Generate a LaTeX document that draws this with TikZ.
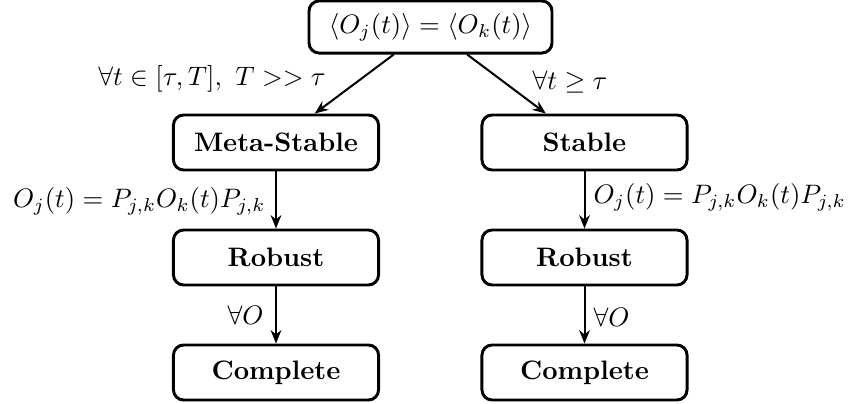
\documentclass[tikz,border=0pt]{standalone}
\usetikzlibrary{arrows.meta}
\begin{document}
\begin{tikzpicture}[x=0.3745pt,y=-0.3745pt,
  box/.style={draw, line width=1.1pt, rounded corners=3.8pt, inner sep=0pt,
    minimum width=76.8pt, minimum height=20.6pt, font=\bfseries},
  topbox/.style={draw, line width=1.1pt, rounded corners=3.8pt, inner sep=0pt,
    minimum width=91pt, minimum height=19.5pt},
  arr/.style={-{Stealth[length=5pt,width=4pt,inset=1.6pt]}, line width=0.75pt},
  lbl/.style={inner sep=0pt}]
\useasboundingbox (0,0) rectangle (849,404);
\node[topbox] (top) at (430.5,27) {$\langle O_j(t)\rangle = \langle O_k(t)\rangle$};
\node[box] (meta) at (276,142.5) {Meta-Stable};
\node[box] (stable) at (584.5,142.5) {Stable};
\node[box] (rob1) at (276,257.5) {Robust};
\node[box] (rob2) at (584.5,257.5) {Robust};
\node[box] (comp1) at (276,372.5) {Complete};
\node[box] (comp2) at (584.5,372.5) {Complete};
\draw[arr] (top) -- (meta);
\draw[arr] (top) -- (stable);
\draw[arr] (meta) -- (rob1);
\draw[arr] (stable) -- (rob2);
\draw[arr] (rob1) -- (comp1);
\draw[arr] (rob2) -- (comp2);
\node[lbl] (l1) at (212,79) {$\forall t\in[\tau,T],\ T>>\tau$};
\node[lbl] (l2) at (570,82) {$\forall t\geq\tau$};
\node[lbl, anchor=east] (l3) at (266,201) {$O_j(t)=P_{j,k}O_k(t)P_{j,k}$};
\node[lbl, anchor=west] (l4) at (593,197) {$O_j(t)=P_{j,k}O_k(t)P_{j,k}$};
\node[lbl, anchor=east] (l5) at (264,315) {$\forall O$};
\node[lbl, anchor=west] (l6) at (593,317) {$\forall O$};
\end{tikzpicture}
\end{document}
